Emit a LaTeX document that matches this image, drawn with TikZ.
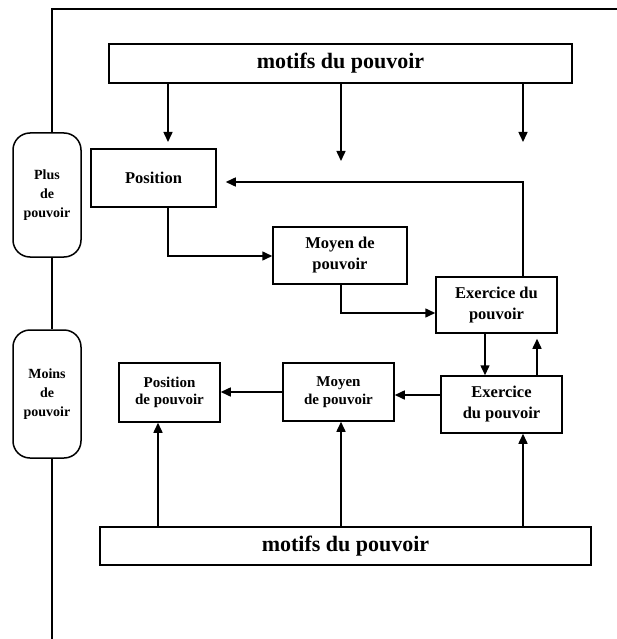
\documentclass[tikz,border=0pt]{standalone}
\usepackage{fontspec}
\setmainfont{Liberation Serif}
\usetikzlibrary{arrows.meta,calc}
\begin{document}
\begin{tikzpicture}[x=1pt,y=-1pt,line width=1.5pt,
  box/.style={draw,rectangle,inner sep=0pt,align=center,font=\bfseries\fontsize{16.5}{21}\selectfont},
  lowbox/.style={box,font=\bfseries\fontsize{15}{17.5}\selectfont},
  motif/.style={box,font=\bfseries\fontsize{22}{26}\selectfont},
  pill/.style={draw,rectangle,rounded corners=17pt,inner sep=0pt,align=center,minimum width=68pt,font=\bfseries\fontsize{14}{19}\selectfont},
  arr/.style={-{Triangle[length=10pt,width=9pt]}}]
\useasboundingbox (0,0) rectangle (617,639);

% nodes
\node[motif,minimum width=463pt,minimum height=39pt] (mtop) at (340.5,63.5) {motifs du pouvoir};
\node[box,minimum width=125pt,minimum height=58pt] (pos1) at (153.5,178) {Position};
\node[box,minimum width=134pt,minimum height=57pt] (moy1) at (340,255.5) {Moyen de\\pouvoir};
\node[box,minimum width=121pt,minimum height=56pt] (ex1) at (496.5,305) {Exercice du\\pouvoir};
\node[box,minimum width=121pt,minimum height=57pt] (ex2) at (501.5,404.5) {Exercice\\du pouvoir};
\node[lowbox,minimum width=111pt,minimum height=58pt] (moy2) at (338.5,392) {Moyen\\de pouvoir};
\node[lowbox,minimum width=101pt,minimum height=59pt] (pos2) at (169.5,392.5) {Position\\de pouvoir};
\node[motif,minimum width=491pt,minimum height=38pt] (mbot) at (345.5,546) {motifs du pouvoir};
\node[pill,minimum height=124pt] (plus) at (47,195) {Plus\\de\\pouvoir};
\node[pill,minimum height=128pt] (moins) at (47,394) {Moins\\de\\pouvoir};

% frame line
\coordinate (fx) at (52,0);
\coordinate (tr) at (617,9);
\coordinate (bl) at (52,639);
\draw (plus.north -| fx) |- (tr);
\draw (plus.south -| fx) -- (moins.north -| fx);
\draw (moins.south -| fx) -- (bl);

% arrows from top motifs
\coordinate (a1) at (168,142);
\coordinate (a2) at (341,161);
\coordinate (a3) at (523,142);
\draw[arr] (mtop.south -| a1) -- (a1);
\draw[arr] (mtop.south -| a2) -- (a2);
\draw[arr] (mtop.south -| a3) -- (a3);

% upper chain
\coordinate (r1) at (523,182);
\draw[arr,shorten >=9pt] (ex1.north -| r1) -- (r1) -- (r1 -| pos1.east);
\coordinate (c1) at (168,256);
\draw[arr] (pos1.south -| c1) -- (c1) -- (moy1.west |- c1);
\coordinate (c2) at (341,313);
\draw[arr] (moy1.south -| c2) -- (c2) -- (ex1.west |- c2);
\coordinate (d1) at (485,0);
\coordinate (u1) at (537,0);
\draw[arr] (ex1.south -| d1) -- (ex2.north -| d1);
\draw[arr,shorten >=5pt] (ex2.north -| u1) -- (ex1.south -| u1);

% lower chain
\coordinate (h1) at (0,395);
\coordinate (h2) at (0,392);
\draw[arr] (ex2.west |- h1) -- (moy2.east |- h1);
\draw[arr] (moy2.west |- h2) -- (pos2.east |- h2);

% arrows from bottom motifs
\coordinate (b1) at (158,0);
\coordinate (b2) at (341,0);
\coordinate (b3) at (523,0);
\draw[arr] (mbot.north -| b1) -- (pos2.south -| b1);
\draw[arr] (mbot.north -| b2) -- (moy2.south -| b2);
\draw[arr] (mbot.north -| b3) -- (ex2.south -| b3);
\end{tikzpicture}
\end{document}
